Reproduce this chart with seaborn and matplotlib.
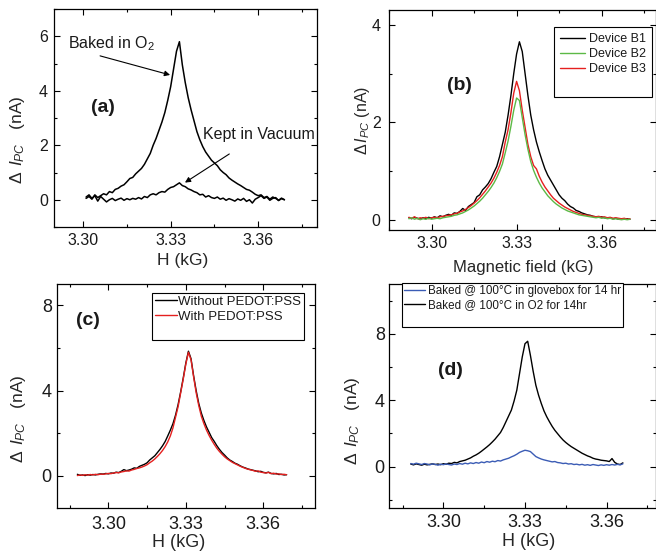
import numpy as np
import matplotlib
matplotlib.use('Agg')
import matplotlib.pyplot as plt
from matplotlib.lines import Line2D
from matplotlib.ticker import FixedLocator, FormatStrFormatter, MultipleLocator
import seaborn as sns

sns.set_style('ticks')
plt.rcParams['font.family'] = ['Liberation Sans', 'DejaVu Sans']
plt.rcParams['mathtext.fontset'] = 'custom'
plt.rcParams['mathtext.rm'] = 'Liberation Sans'
plt.rcParams['mathtext.it'] = 'Liberation Sans:italic'
plt.rcParams['mathtext.bf'] = 'Liberation Sans:bold'
plt.rcParams['text.color'] = '#1a1a1a'
plt.rcParams['xtick.color'] = 'black'
plt.rcParams['ytick.color'] = 'black'
plt.rcParams['xtick.labelcolor'] = '#1a1a1a'
plt.rcParams['ytick.labelcolor'] = '#1a1a1a'

# ---------------- data ----------------
# (a) field sweep 3.301 .. 3.369 kG
field_a = np.round(np.arange(3.301, 3.3695, 0.001), 3)
baked_o2_a = [
    0.05, 0.12, 0.02, 0.18, 0.08, 0.15, 0.22, 0.18, 0.30, 0.26,
    0.38, 0.42, 0.50, 0.55, 0.66, 0.78, 0.82, 0.95, 1.05, 1.15,
    1.30, 1.50, 1.70, 2.00, 2.25, 2.55, 2.85, 3.20, 3.65, 4.15,
    4.80, 5.45, 5.80, 4.95, 4.30, 3.75, 3.30, 2.90, 2.50, 2.20,
    1.95, 1.75, 1.60, 1.45, 1.35, 1.25, 1.10, 1.00, 0.92, 0.80,
    0.72, 0.65, 0.58, 0.52, 0.45, 0.38, 0.35, 0.28, 0.20, 0.15,
    0.18, 0.08, 0.12, 0.02, 0.10, 0.05, -0.02, 0.06, 0.00]
vacuum_a = [
    0.10, 0.18, 0.05, 0.15, -0.05, 0.12, 0.02, -0.08, 0.00, 0.05,
    -0.03, 0.02, 0.06, -0.02, 0.04, 0.00, 0.05, 0.02, 0.08, 0.03,
    0.12, 0.08, 0.18, 0.22, 0.18, 0.26, 0.30, 0.28, 0.38, 0.45,
    0.48, 0.55, 0.62, 0.52, 0.48, 0.40, 0.36, 0.30, 0.26, 0.18,
    0.20, 0.10, 0.15, 0.08, 0.05, 0.10, 0.02, 0.06, -0.02, 0.04,
    0.00, -0.05, 0.03, -0.02, 0.05, -0.06, 0.00, -0.12, 0.02, 0.08,
    0.15, 0.05, 0.10, -0.02, 0.05, 0.08, -0.03, 0.04, 0.00]

# (b) field sweep 3.292 .. 3.370 kG
field_b = np.round(np.arange(3.292, 3.3705, 0.001), 3)
device_b1 = [
    0.05, 0.03, 0.06, 0.04, 0.02, 0.05, 0.03, 0.06, 0.04,
    0.07, 0.05, 0.09, 0.07, 0.10, 0.12, 0.10, 0.15, 0.14, 0.18,
    0.24, 0.20, 0.28, 0.32, 0.36, 0.48, 0.52, 0.62, 0.68, 0.75,
    0.85, 0.98, 1.10, 1.30, 1.55, 1.80, 2.15, 2.55, 3.00, 3.40,
    3.65, 3.45, 3.00, 2.55, 2.15, 1.85, 1.60, 1.40, 1.22, 1.05,
    0.92, 0.82, 0.72, 0.62, 0.52, 0.45, 0.40, 0.33, 0.28, 0.25,
    0.20, 0.18, 0.15, 0.13, 0.11, 0.10, 0.08, 0.07, 0.06, 0.07,
    0.05, 0.04, 0.05, 0.03, 0.04, 0.02, 0.03, 0.02, 0.03, 0.02]
device_b2 = [
    0.03, 0.05, 0.02, 0.04, 0.01, 0.03, 0.02, 0.04, 0.02,
    0.03, 0.04, 0.03, 0.05, 0.06, 0.07, 0.08, 0.10, 0.11, 0.13,
    0.15, 0.18, 0.21, 0.25, 0.29, 0.34, 0.39, 0.45, 0.52, 0.59,
    0.67, 0.76, 0.87, 1.00, 1.15, 1.38, 1.62, 1.92, 2.25, 2.50,
    2.45, 2.10, 1.75, 1.45, 1.20, 1.02, 0.88, 0.76, 0.66, 0.58,
    0.50, 0.44, 0.38, 0.33, 0.29, 0.25, 0.22, 0.19, 0.17, 0.15,
    0.13, 0.11, 0.10, 0.09, 0.08, 0.07, 0.06, 0.05, 0.06, 0.04,
    0.05, 0.03, 0.04, 0.02, 0.03, 0.02, 0.01, 0.02, 0.01, 0.02]
device_b3 = [
    0.06, 0.04, 0.07, 0.03, 0.05, 0.04, 0.06, 0.03, 0.05,
    0.06, 0.05, 0.07, 0.08, 0.09, 0.10, 0.11, 0.13, 0.14, 0.17,
    0.19, 0.22, 0.26, 0.30, 0.35, 0.40, 0.46, 0.53, 0.60, 0.68,
    0.76, 0.86, 0.98, 1.12, 1.30, 1.60, 1.85, 2.20, 2.60, 2.84,
    2.65, 2.25, 1.90, 1.55, 1.30, 1.12, 1.05, 0.90, 0.78, 0.68,
    0.60, 0.52, 0.45, 0.40, 0.35, 0.31, 0.27, 0.24, 0.21, 0.18,
    0.16, 0.14, 0.12, 0.11, 0.10, 0.09, 0.08, 0.07, 0.08, 0.06,
    0.07, 0.05, 0.06, 0.04, 0.05, 0.04, 0.03, 0.04, 0.02, 0.03]
device_labels = ['Device B1', 'Device B2', 'Device B3']

# (c) field sweep 3.288 .. 3.369 kG
field_c = np.round(np.arange(3.288, 3.3695, 0.001), 3)
without_pedot = [
    0.08, 0.03,
    0.05, 0.02, 0.06, 0.04, 0.07, 0.05, 0.08, 0.10, 0.09, 0.12,
    0.10, 0.14, 0.13, 0.18, 0.16, 0.22, 0.30, 0.25, 0.28, 0.32,
    0.38, 0.36, 0.45, 0.50, 0.55, 0.62, 0.75, 0.85, 0.95, 1.10,
    1.25, 1.42, 1.62, 1.88, 2.15, 2.45, 2.85, 3.35, 3.95, 4.60,
    5.30, 5.85, 5.50, 4.70, 4.00, 3.40, 2.95, 2.60, 2.30, 2.05,
    1.80, 1.62, 1.42, 1.25, 1.10, 0.98, 0.85, 0.75, 0.68, 0.60,
    0.55, 0.48, 0.42, 0.38, 0.33, 0.30, 0.27, 0.24, 0.20, 0.22,
    0.17, 0.15, 0.18, 0.12, 0.10, 0.12, 0.07, 0.08, 0.05, 0.06]
with_pedot = [
    0.02, 0.05,
    0.03, 0.06, 0.04, 0.07, 0.05, 0.08, 0.06, 0.09, 0.08, 0.10,
    0.12, 0.11, 0.14, 0.16, 0.15, 0.19, 0.21, 0.24, 0.23, 0.28,
    0.31, 0.35, 0.38, 0.42, 0.47, 0.53, 0.62, 0.70, 0.80, 0.92,
    1.05, 1.20, 1.38, 1.60, 1.88, 2.25, 2.75, 3.25, 3.90, 4.55,
    5.25, 5.80, 5.45, 4.65, 3.90, 3.30, 2.80, 2.45, 2.15, 1.90,
    1.68, 1.48, 1.30, 1.15, 1.02, 0.90, 0.80, 0.72, 0.64, 0.58,
    0.52, 0.46, 0.41, 0.36, 0.32, 0.29, 0.26, 0.22, 0.24, 0.18,
    0.16, 0.14, 0.17, 0.11, 0.13, 0.09, 0.10, 0.07, 0.08, 0.06]

# (d) field sweep 3.288 .. 3.366 kG
field_d = np.round(np.arange(3.288, 3.3665, 0.001), 3)
glovebox_d = [
    0.18, 0.14,
    0.20, 0.16, 0.12, 0.18, 0.15, 0.10, 0.16, 0.13, 0.08, 0.14,
    0.11, 0.16, 0.12, 0.09, 0.15, 0.12, 0.18, 0.14, 0.20, 0.16,
    0.22, 0.18, 0.24, 0.20, 0.27, 0.23, 0.30, 0.26, 0.32, 0.29,
    0.36, 0.33, 0.40, 0.45, 0.50, 0.58, 0.65, 0.74, 0.85, 0.92,
    0.98, 0.95, 0.90, 0.75, 0.60, 0.52, 0.45, 0.40, 0.36, 0.32,
    0.28, 0.30, 0.24, 0.22, 0.18, 0.20, 0.15, 0.17, 0.12, 0.14,
    0.10, 0.13, 0.08, 0.11, 0.07, 0.12, 0.09, 0.06, 0.10, 0.07,
    0.11, 0.08, 0.12, 0.09, 0.13, 0.10, 0.16]
o2_d = [
    0.15, 0.10,
    0.16, 0.12, 0.08, 0.14, 0.10, 0.13, 0.16, 0.12, 0.15, 0.11,
    0.17, 0.14, 0.20, 0.18, 0.25, 0.22, 0.30, 0.34, 0.38, 0.45,
    0.52, 0.62, 0.70, 0.80, 0.92, 1.05, 1.18, 1.32, 1.48, 1.65,
    1.85, 2.05, 2.35, 2.70, 3.05, 3.40, 3.95, 4.60, 5.60, 6.60,
    7.40, 7.55, 6.70, 5.75, 4.90, 4.30, 3.80, 3.35, 3.00, 2.70,
    2.42, 2.18, 1.98, 1.78, 1.60, 1.45, 1.32, 1.20, 1.10, 1.00,
    0.90, 0.80, 0.72, 0.64, 0.58, 0.50, 0.45, 0.42, 0.38, 0.36,
    0.34, 0.30, 0.48, 0.25, 0.15, 0.12, 0.22]
d_labels = ['Baked @ 100\u00b0C in glovebox for 14 hr', 'Baked @ 100\u00b0C in O2 for 14hr']

GREEN = '#5cb946'
RED = '#e5201f'
BLUE = '#3b5cb5'
YLAB = r'$\Delta\;\,I_{PC}\quad$(nA)'


def style_axes(ax, xlim, ylim, ymaj, ymin, fs, xpad, ypad):
    ax.set_xlim(*xlim)
    ax.set_ylim(*ylim)
    ax.xaxis.set_major_locator(FixedLocator([3.30, 3.33, 3.36]))
    ax.xaxis.set_minor_locator(FixedLocator([3.285, 3.315, 3.345, 3.375]))
    ax.xaxis.set_major_formatter(FormatStrFormatter('%.2f'))
    ax.yaxis.set_major_locator(MultipleLocator(ymaj))
    ax.yaxis.set_minor_locator(MultipleLocator(ymin))
    ax.tick_params(which='both', direction='in', top=True, right=True, width=0.8)
    ax.tick_params(which='major', length=4.5, labelsize=fs)
    ax.tick_params(which='minor', length=2.5)
    ax.tick_params(axis='x', which='both', pad=xpad)
    ax.tick_params(axis='y', which='both', pad=ypad)
    for s in ax.spines.values():
        s.set_linewidth(0.9)
        s.set_color('black')


def boxed_legend(ax, handles, labels, fs, **kw):
    blank = Line2D([], [], color='none')
    leg = ax.legend(handles + [blank], labels + [' '], fontsize=fs, frameon=True,
                    fancybox=False, framealpha=1, edgecolor='black',
                    borderaxespad=0, **kw)
    leg.get_frame().set_linewidth(0.8)
    return leg


fig = plt.figure(figsize=(6.56, 5.52), dpi=100)
W, H = 656.0, 552.0


def add_ax(left, right, top, bottom):
    return fig.add_axes([left / W, (H - bottom) / H, (right - left) / W, (bottom - top) / H])


# ---------------- (a) ----------------
ax = add_ax(54, 316.5, 9, 227)
sns.lineplot(x=field_a, y=baked_o2_a, ax=ax, color='black', lw=1.1, estimator=None)
sns.lineplot(x=field_a, y=vacuum_a, ax=ax, color='black', lw=1.1, estimator=None)
style_axes(ax, (3.29, 3.38), (-1, 7), 2, 1, 11.5, 4.5, 4.5)
ax.set_xlabel('H (kG)', fontsize=12.5)
ax.set_ylabel(YLAB, fontsize=12.5)
ax.xaxis.set_label_coords(0.489, -0.119)
ax.yaxis.set_label_coords(-0.103, 0.40)
ax.text(0.187, 0.546, '(a)', transform=ax.transAxes, fontsize=14, fontweight='bold',
        ha='center', va='center')
ax.text(3.2948, 5.72, 'Baked in O$_2$', fontsize=11.5, ha='left', va='center')
ax.text(3.3411, 2.38, 'Kept in Vacuum', fontsize=11.5, ha='left', va='center')
arrow = dict(arrowstyle='-|>', color='black', lw=0.8, mutation_scale=8, shrinkA=0, shrinkB=0)
ax.annotate('', xy=(3.3298, 4.58), xytext=(3.3058, 5.28), arrowprops=arrow)
ax.annotate('', xy=(3.3349, 0.63), xytext=(3.3501, 1.68), arrowprops=arrow)

# ---------------- (b) ----------------
ax = add_ax(389, 655.5, 10, 230)
l1 = sns.lineplot(x=field_b, y=device_b1, ax=ax, color='black', lw=1.0, estimator=None).lines[-1]
l3 = sns.lineplot(x=field_b, y=device_b3, ax=ax, color=RED, lw=1.0, estimator=None).lines[-1]
l2 = sns.lineplot(x=field_b, y=device_b2, ax=ax, color=GREEN, lw=1.0, estimator=None).lines[-1]
style_axes(ax, (3.285, 3.379), (-0.2, 4.3), 2, 1, 11.5, 4, 6)
ax.set_xlabel('Magnetic field (kG)', fontsize=12)
ax.set_ylabel(r'$\Delta\,I_{PC}$ (nA)', fontsize=11.5)
ax.xaxis.set_label_coords(0.503, -0.136)
ax.yaxis.set_label_coords(-0.064, 0.5)
ax.text(0.266, 0.659, '(b)', transform=ax.transAxes, fontsize=14, fontweight='bold',
        ha='center', va='center')
boxed_legend(ax, [l1, l2, l3], device_labels, 9, loc='upper right',
             bbox_to_anchor=(0.987, 0.923), handlelength=2.0, handletextpad=0.3,
             labelspacing=0.25, borderpad=0.5)

# ---------------- (c) ----------------
ax = add_ax(56.7, 315, 284, 508)
c1 = sns.lineplot(x=field_c, y=without_pedot, ax=ax, color='black', lw=1.0, estimator=None).lines[-1]
c2 = sns.lineplot(x=field_c, y=with_pedot, ax=ax, color=RED, lw=1.0, estimator=None).lines[-1]
style_axes(ax, (3.28, 3.38), (-1.5, 9), 4, 2, 13, 5.5, 3.5)
ax.set_xlabel('H (kG)', fontsize=13)
ax.set_ylabel(YLAB, fontsize=12.5)
ax.xaxis.set_label_coords(0.473, -0.118)
ax.yaxis.set_label_coords(-0.111, 0.397)
ax.text(0.12, 0.835, '(c)', transform=ax.transAxes, fontsize=14, fontweight='bold',
        ha='center', va='center')
boxed_legend(ax, [c1, c2], ['Without PEDOT:PSS', 'With PEDOT:PSS'], 9.5,
             loc='upper right', bbox_to_anchor=(0.957, 0.96), handlelength=1.7,
             handletextpad=0.1, labelspacing=0.2, borderpad=0.2)

# ---------------- (d) ----------------
ax = add_ax(389, 655.5, 284, 508)
d2 = sns.lineplot(x=field_d, y=o2_d, ax=ax, color='black', lw=1.0, estimator=None).lines[-1]
d1 = sns.lineplot(x=field_d, y=glovebox_d, ax=ax, color=BLUE, lw=1.0, estimator=None).lines[-1]
style_axes(ax, (3.28, 3.378), (-2.5, 11), 4, 2, 13, 4, 3)
ax.set_xlabel('H (kG)', fontsize=13)
ax.set_ylabel(YLAB, fontsize=12.5)
ax.xaxis.set_label_coords(0.525, -0.112)
ax.yaxis.set_label_coords(-0.101, 0.39)
ax.text(0.229, 0.612, '(d)', transform=ax.transAxes, fontsize=14, fontweight='bold',
        ha='center', va='center')
boxed_legend(ax, [d1, d2], d_labels, 8.4, loc='upper left',
             bbox_to_anchor=(0.049, 1.004), handlelength=1.8, handletextpad=0.2,
             labelspacing=0.15, borderpad=0.2)

fig.savefig('out.png', dpi=100)
